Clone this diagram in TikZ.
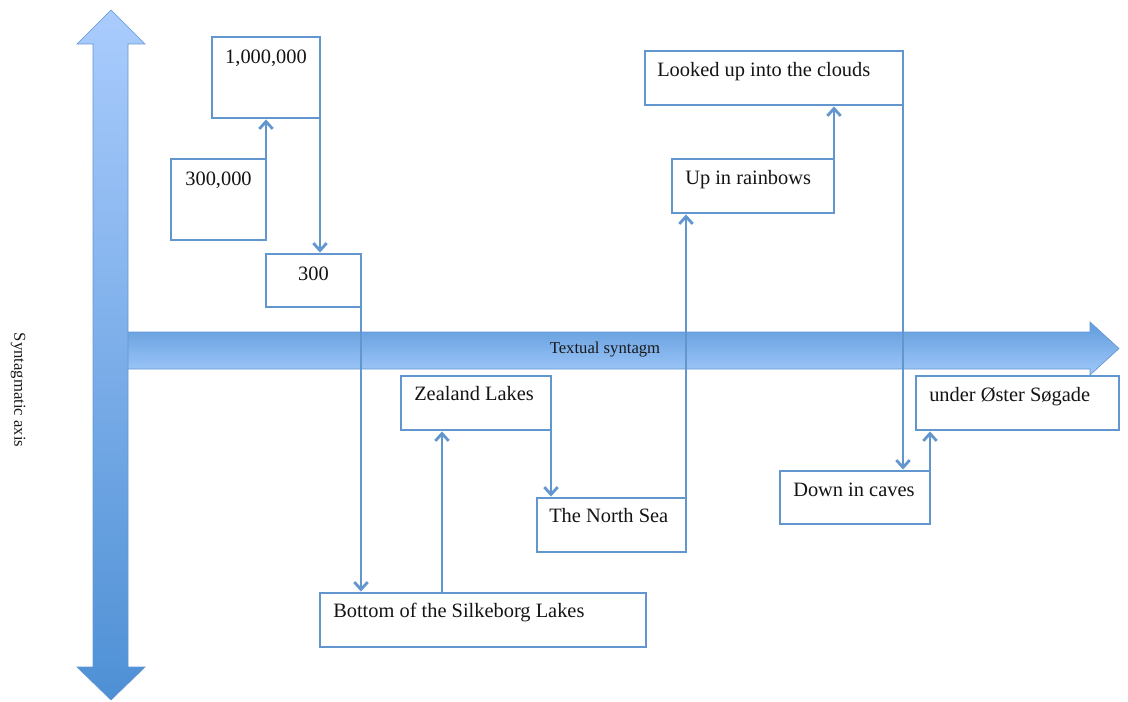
\documentclass[tikz,border=0pt]{standalone}
\usepackage{fontspec}
\setmainfont{Liberation Serif}
\usetikzlibrary{arrows.meta,shadows,calc}
\definecolor{boxblue}{RGB}{98,150,206}
\definecolor{vtop}{RGB}{170,204,253}
\definecolor{vbot}{RGB}{78,144,213}
\definecolor{htop}{RGB}{96,156,220}
\definecolor{hbot}{RGB}{160,200,250}
\definecolor{arredge}{RGB}{100,150,210}
\begin{document}
\begin{tikzpicture}[x=0.75pt,y=-0.75pt,
  box/.style={draw=boxblue, line width=2.2pt, fill=white, rectangle, inner sep=0pt, outer xsep=0pt,
    drop shadow={shadow xshift=0.8pt, shadow yshift=-0.8pt, opacity=0.18, fill=black}},
  lbl/.style={inner sep=0pt, font=\fontsize{15.3}{18}\selectfont, text=black!92},
  small/.style={inner sep=0pt, font=\fontsize{12.5}{15}\selectfont, text=black!90},
  conn/.style={draw=boxblue, line width=2.1pt, -{Straight Barb[length=5.5pt,width=10pt,line width=2.1pt]}}]
\useasboundingbox (0,0) rectangle (1128,702);

% horizontal arrow (textual syntagm)
\shade[top color=htop, bottom color=hbot, draw=arredge, line width=0.5pt]
  (110,332) -- (1090,332) -- (1090,322) -- (1119,348.5) -- (1090,375) -- (1090,369) -- (110,369) -- cycle;
\node[small] (syntagm) at (605,350) {Textual syntagm};

% vertical double arrow (syntagmatic axis)
\shade[top color=vtop, bottom color=vbot, draw=arredge, line width=0.5pt]
  (93,44) -- (77,44) -- (111,10) -- (145,44) -- (128,44) -- (128,667) -- (145,667)
  -- (111,700) -- (77,667) -- (93,667) -- cycle;
\node[small, rotate=-90] (axis) at (18,390) {Syntagmatic axis};

% boxes
\node[box, minimum width=81pt, minimum height=60.75pt] (n1m) at (266,77.5) {};
\node[box, minimum width=71.25pt, minimum height=60.75pt] (n300k) at (218.5,199.5) {};
\node[box, minimum width=71.25pt, minimum height=39.75pt] (n300) at (313.5,280.5) {};
\node[box, minimum width=112.5pt, minimum height=40.5pt] (zealand) at (476,403) {};
\node[box, minimum width=111.75pt, minimum height=40.5pt] (northsea) at (611.5,525) {};
\node[box, minimum width=244.5pt, minimum height=40.5pt] (bottom) at (483,620) {};
\node[box, minimum width=193.5pt, minimum height=40.5pt] (looked) at (774,78) {};
\node[box, minimum width=121.5pt, minimum height=40.5pt] (rainbows) at (753,186) {};
\node[box, minimum width=152.25pt, minimum height=40.5pt] (under) at (1017.5,403) {};
\node[box, minimum width=112.5pt, minimum height=39.75pt] (caves) at (855,497.5) {};

% texts
\node[lbl, anchor=north] (t1m) at ([shift={(0,14)}]n1m.north) {1,000,000};
\node[lbl, anchor=north] (t300k) at ([shift={(0,14)}]n300k.north) {300,000};
\node[lbl, anchor=north] (t300) at ([shift={(0,14)}]n300.north) {300};
\node[lbl, anchor=north west] (tzealand) at ([shift={(13,12)}]zealand.north west) {Zealand Lakes};
\node[lbl, anchor=north west] (tnorthsea) at ([shift={(12,12)}]northsea.north west) {The North Sea};
\node[lbl, anchor=north west] (tbottom) at ([shift={(13,11)}]bottom.north west) {Bottom of the Silkeborg Lakes};
\node[lbl, anchor=north west] (tlooked) at ([shift={(12,13)}]looked.north west) {Looked up into the clouds};
\node[lbl, anchor=north west] (trainbows) at ([shift={(13,13)}]rainbows.north west) {Up in rainbows};
\node[lbl, anchor=north west] (tunder) at ([shift={(13,13)}]under.north west) {under Øster Søgade};
\node[lbl, anchor=north west] (tcaves) at ([shift={(13,13)}]caves.north west) {Down in caves};

% connectors
\draw[conn] (n300k.east) -- (n300k.east |- n1m.south);
\draw[conn] (n1m.east) -- (n1m.east |- n300.north);
\draw[conn] (n300.east) -- (n300.east |- bottom.north);
\coordinate (zin) at ($(zealand.south west)+(41,0)$);
\draw[conn] (zin |- bottom.north) -- (zin);
\draw[conn] (zealand.east) -- (zealand.east |- northsea.north);
\draw[conn] (northsea.east) -- (northsea.east |- rainbows.south);
\draw[conn] (rainbows.east) -- (rainbows.east |- looked.south);
\draw[conn] (looked.east) -- (looked.east |- caves.north);
\draw[conn] (caves.east) -- (caves.east |- under.south);
\end{tikzpicture}
\end{document}
